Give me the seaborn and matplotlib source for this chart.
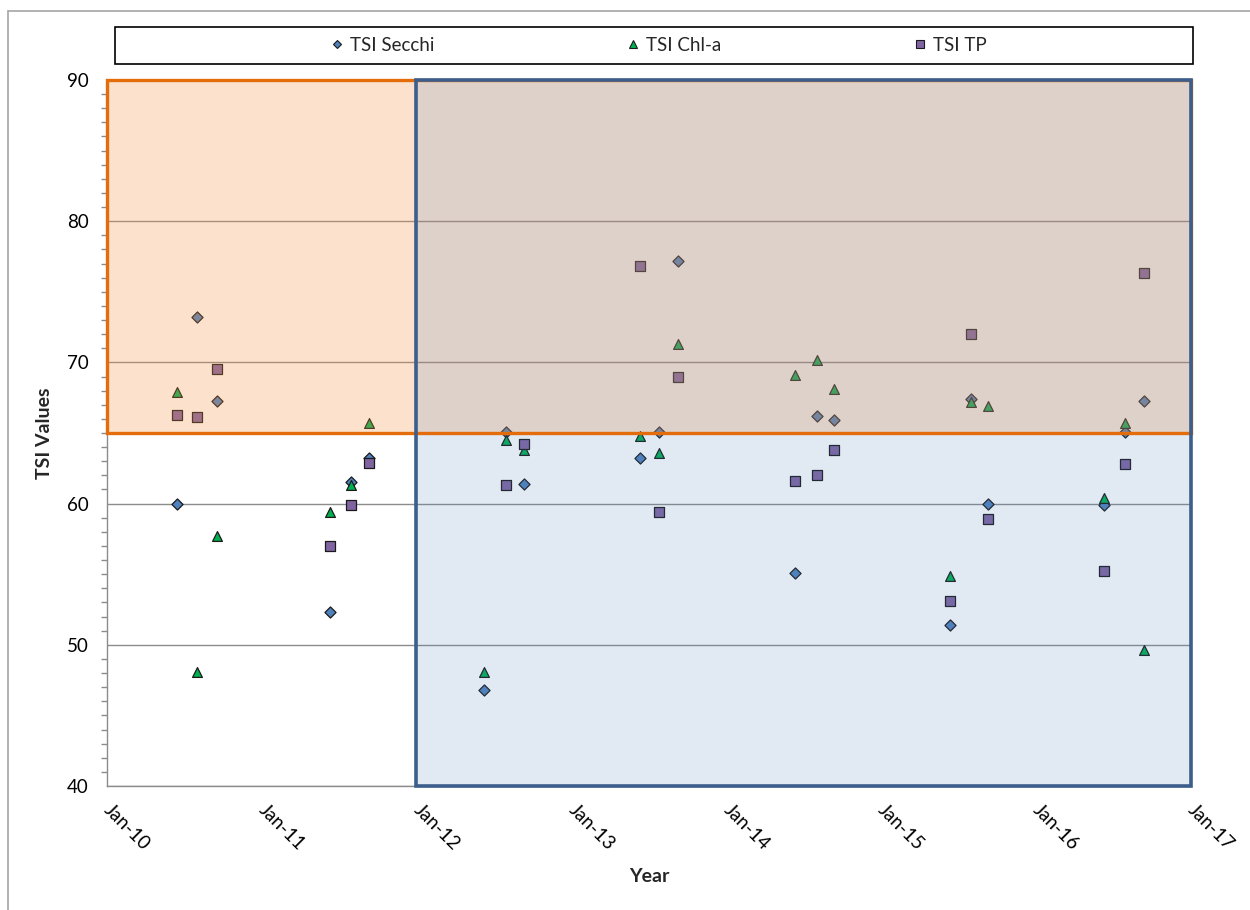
import numpy as np
import pandas as pd
import matplotlib
matplotlib.use('Agg')
import matplotlib.pyplot as plt
import matplotlib.dates as mdates
from matplotlib.patches import Rectangle
from matplotlib.lines import Line2D
from matplotlib.ticker import MultipleLocator
import seaborn as sns

# sampling dates (three summer samples per year)
sample_dates = ['2010-06-15', '2010-08-01', '2010-09-17',
                '2011-06-12', '2011-07-31', '2011-09-10',
                '2012-06-08', '2012-07-30', '2012-09-11',
                '2013-06-12', '2013-07-27', '2013-09-08',
                '2014-06-13', '2014-08-03', '2014-09-12',
                '2015-06-13', '2015-07-31', '2015-09-11',
                '2016-06-10', '2016-07-30', '2016-09-11']

tsi_secchi = [60.0, 73.2, 67.3, 52.3, 61.5, 63.2, 46.8, 65.1, 61.4,
              63.2, 65.1, 77.2, 55.1, 66.2, 65.9, 51.4, 67.4, 60.0,
              59.9, 65.1, 67.3]
tsi_chla = [67.9, 48.1, 57.7, 59.4, 61.3, 65.7, 48.1, 64.5, 63.8,
            64.8, 63.6, 71.3, 69.1, 70.2, 68.1, 54.9, 67.2, 66.9,
            60.4, 65.7, 49.6]
tsi_tp = [66.3, 66.1, 69.5, 57.0, 59.9, 62.9, np.nan, 61.3, 64.2,
          76.8, 59.4, 69.0, 61.6, 62.0, 63.8, 53.1, 72.0, 58.9,
          55.2, 62.8, 76.3]

series_names = ['TSI Secchi', 'TSI Chl-a', 'TSI TP']
series_colors = {'TSI Secchi': '#4F81BD', 'TSI Chl-a': '#00B050', 'TSI TP': '#8064A2'}
series_markers = {'TSI Secchi': 'D', 'TSI Chl-a': '^', 'TSI TP': 's'}
series_sizes = {'TSI Secchi': 32, 'TSI Chl-a': 50, 'TSI TP': 50}

# shaded zones
eutrophic_cut = 65
period_start, period_split, period_end = '2010-01-01', '2012-01-01', '2017-01-01'

sns.set_theme(style='white')
plt.rcParams['font.family'] = ['Lato', 'DejaVu Sans']

df = pd.DataFrame({'Date': pd.to_datetime(sample_dates),
                   'TSI Secchi': tsi_secchi,
                   'TSI Chl-a': tsi_chla,
                   'TSI TP': tsi_tp})
long_df = df.melt(id_vars='Date', var_name='Index', value_name='TSI').dropna()

fig = plt.figure(figsize=(12.5, 9.1), dpi=100)
ax = fig.add_axes([107 / 1250, 124 / 910, 1084 / 1250, 706 / 910])

for name in series_names:
    sub = long_df[long_df['Index'] == name]
    sns.scatterplot(data=sub, x='Date', y='TSI', color=series_colors[name],
                    marker=series_markers[name], s=series_sizes[name],
                    edgecolor='#1a1a1a', linewidth=0.9, legend=False, ax=ax, zorder=3)

x0 = mdates.date2num(pd.Timestamp(period_start))
x1 = mdates.date2num(pd.Timestamp(period_split))
x2 = mdates.date2num(pd.Timestamp(period_end))

# overlays drawn above markers (semi-transparent), as in the original
ax.add_patch(Rectangle((x0, eutrophic_cut), x2 - x0, 90 - eutrophic_cut,
                       facecolor='#F79646', alpha=0.27, edgecolor='none', zorder=4))
ax.add_patch(Rectangle((x1, 40), x2 - x1, 50,
                       facecolor='#4F81BD', alpha=0.17, edgecolor='none', zorder=4))
ax.add_patch(Rectangle((x0, eutrophic_cut), x2 - x0, 90 - eutrophic_cut,
                       fill=False, edgecolor='#E46C0A', linewidth=2.4, zorder=5, clip_on=False))
ax.add_patch(Rectangle((x1, 40), x2 - x1, 50,
                       fill=False, edgecolor='#3B5E8C', linewidth=2.6, zorder=6, clip_on=False))

ax.set_xlim(x0, x2)
ax.set_ylim(40, 90)
ax.xaxis.set_major_locator(mdates.YearLocator())
ax.xaxis.set_major_formatter(mdates.DateFormatter('%b-%y'))
ax.yaxis.set_major_locator(MultipleLocator(10))
ax.yaxis.set_minor_locator(MultipleLocator(1))

ax.yaxis.grid(True, which='major', color='#8C8C8C', linewidth=1.0)
ax.set_axisbelow(True)
for side in ['top', 'right']:
    ax.spines[side].set_visible(False)
for side in ['left', 'bottom']:
    ax.spines[side].set_color('#8C8C8C')
    ax.spines[side].set_linewidth(1.0)

ax.tick_params(axis='both', which='major', direction='out', length=5, width=1,
               color='#8C8C8C', labelsize=13.5, labelcolor='black')
ax.tick_params(axis='y', which='minor', direction='out', length=4, width=1,
               color='#8C8C8C', left=True)
ax.tick_params(axis='y', which='major', pad=8)
ax.tick_params(axis='x', which='major', pad=10)
for lbl in ax.get_xticklabels():
    lbl.set_rotation(-45)
    lbl.set_ha('left')
    lbl.set_va('center')
    lbl.set_rotation_mode('anchor')

ax.set_xlabel('Year', fontsize=14, fontweight='bold', labelpad=11)
ax.set_ylabel('TSI Values', fontsize=14, fontweight='bold', labelpad=10)

# legend across the top in its own box
handles = [Line2D([], [], linestyle='none', marker=series_markers[n],
                  markerfacecolor=series_colors[n], markeredgecolor='#1a1a1a',
                  markeredgewidth=0.8, markersize=5.5 if n != 'TSI Secchi' else 4.5)
           for n in series_names]
fig.legend(handles, series_names, loc='center', bbox_to_anchor=(658 / 1250, 1 - 45.5 / 910),
           ncol=3, frameon=False, fontsize=13.5, columnspacing=10.2,
           handletextpad=0.3, handlelength=0.8)
fig.add_artist(Rectangle((115 / 1250, 1 - 64 / 910), 1078 / 1250, 37 / 910,
                         transform=fig.transFigure, fill=False,
                         edgecolor='black', linewidth=1.2))

# chart-area border (top and left visible)
fig.add_artist(Line2D([8 / 1250, 8 / 1250], [0, 1 - 11 / 910], transform=fig.transFigure,
                      color='#A6A6A6', linewidth=1.2))
fig.add_artist(Line2D([8 / 1250, 1], [1 - 11 / 910, 1 - 11 / 910], transform=fig.transFigure,
                      color='#A6A6A6', linewidth=1.2))

fig.savefig('out.png', dpi=100)
